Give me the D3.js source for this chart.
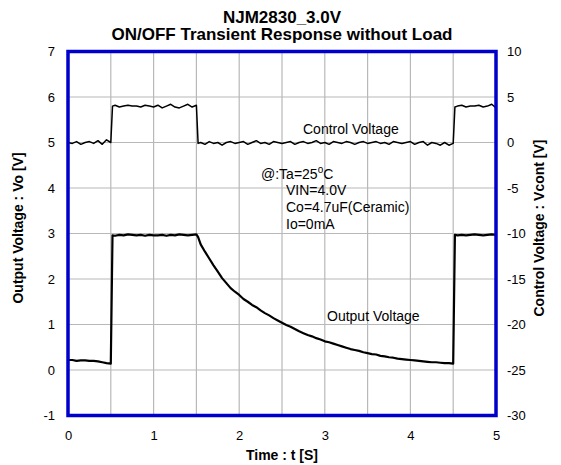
<!DOCTYPE html>
<html>
<head>
<meta charset="utf-8">
<script src="https://cdn.jsdelivr.net/npm/d3@7"></script>
<style>
  html, body { margin: 0; padding: 0; background: #fff; }
  svg { display: block; font-family: "Liberation Sans", Arial, sans-serif; }
</style>
</head>
<body>
<svg id="chart" width="561" height="465"></svg>
<script>
// ---- Data ----
const titleLines = ["NJM2830_3.0V", "ON/OFF Transient Response without Load"];
const xTicks = [0, 1, 2, 3, 4, 5];
const yLeftTicks = [-1, 0, 1, 2, 3, 4, 5, 6, 7];
const yRightTicks = [-30, -25, -20, -15, -10, -5, 0, 5, 10];
const xGrid = [0.5, 1, 1.5, 2, 2.5, 3, 3.5, 4, 4.5];
const yGrid = [0, 1, 2, 3, 4, 5, 6];

const time = [
  0.00,0.05,0.10,0.15,0.20,0.25,0.30,0.35,0.40,0.45,0.50,
  0.52,
  0.55,0.60,0.65,0.70,0.75,0.80,0.85,0.90,0.95,1.00,1.05,1.10,1.15,1.20,1.25,1.30,1.35,1.40,1.45,1.50,
  1.52,
  1.55,1.60,1.65,1.70,1.75,1.80,1.85,1.90,1.95,2.00,
  2.05,2.10,2.15,2.20,2.25,2.30,2.35,2.40,2.45,2.50,
  2.55,2.60,2.65,2.70,2.75,2.80,2.85,2.90,2.95,3.00,
  3.05,3.10,3.15,3.20,3.25,3.30,3.35,3.40,3.45,3.50,
  3.55,3.60,3.65,3.70,3.75,3.80,3.85,3.90,3.95,4.00,
  4.05,4.10,4.15,4.20,4.25,4.30,4.35,4.40,4.45,4.50,
  4.52,
  4.55,4.60,4.65,4.70,4.75,4.80,4.85,4.90,4.95,5.00
];

// Control voltage (right axis, V)
const controlV = [
  0.0,-0.1,0.1,-0.2,0.0,0.1,-0.1,0.2,-0.2,0.3,0.0,
  4.0,
  4.1,3.9,4.0,4.1,4.0,4.0,3.9,4.1,4.0,3.9,4.1,3.8,4.0,4.2,3.9,3.8,4.0,4.2,3.9,4.1,
  -0.1,
  0.0,-0.2,0.1,-0.1,0.0,-0.3,0.0,0.1,-0.1,0.0,
  0.1,-0.2,0.0,0.2,-0.1,0.0,-0.2,0.1,0.0,-0.1,
  0.0,0.1,-0.2,0.0,0.1,-0.1,0.0,0.2,-0.1,0.0,
  -0.2,0.1,0.0,-0.1,0.1,0.0,-0.2,0.0,0.1,-0.1,
  0.0,0.1,-0.1,0.0,-0.2,0.1,0.0,-0.1,0.0,0.1,
  -0.2,0.0,0.1,-0.3,0.0,-0.1,-0.3,0.0,-0.3,-0.1,
  3.9,
  4.0,4.1,3.9,4.0,4.0,4.1,3.9,4.0,4.2,3.8
];

// Output voltage (left axis, V)
const outputV = [
  0.22,0.22,0.20,0.21,0.21,0.20,0.20,0.19,0.17,0.15,0.14,
  2.96,
  2.95,2.97,2.96,2.98,2.97,2.96,2.97,2.95,2.97,2.96,2.96,2.97,2.95,2.97,2.96,2.98,2.97,2.96,2.97,2.98,
  2.92,
  2.76,2.60,2.45,2.30,2.16,2.02,1.91,1.80,1.72,1.65,
  1.56,1.50,1.43,1.38,1.31,1.25,1.20,1.14,1.09,1.04,
  0.99,0.95,0.90,0.85,0.81,0.77,0.74,0.70,0.67,0.63,
  0.61,0.58,0.55,0.52,0.49,0.46,0.44,0.42,0.39,0.37,
  0.35,0.34,0.31,0.30,0.28,0.27,0.25,0.24,0.23,0.22,
  0.21,0.20,0.19,0.18,0.17,0.17,0.16,0.15,0.15,0.14,
  2.97,
  2.96,2.97,2.96,2.97,2.98,2.97,2.96,2.97,2.98,2.97
];

// ---- Layout ----
const svg = d3.select("#chart");
const L = 68, R = 496, T = 51.5, B = 415.5;

const x = d3.scaleLinear().domain([0, 5]).range([L, R]);
const yL = d3.scaleLinear().domain([-1, 7]).range([B, T]);
const yR = d3.scaleLinear().domain([-30, 10]).range([B, T]);

// Gridlines
const grid = svg.append("g").attr("stroke", "#b8b8b8").attr("stroke-width", 1.2);
grid.selectAll("line.v").data(xGrid).join("line")
  .attr("x1", d => x(d)).attr("x2", d => x(d)).attr("y1", T).attr("y2", B);
grid.selectAll("line.h").data(yGrid).join("line")
  .attr("x1", L).attr("x2", R).attr("y1", d => yL(d)).attr("y2", d => yL(d));

// Series
const pts = time.map((t, i) => ({ t, c: controlV[i], o: outputV[i] }));
svg.append("path").datum(pts)
  .attr("fill", "none").attr("stroke", "#000").attr("stroke-width", 1.5)
  .attr("stroke-linejoin", "round")
  .attr("d", d3.line().x(d => x(d.t)).y(d => yR(d.c)));
svg.append("path").datum(pts)
  .attr("fill", "none").attr("stroke", "#000").attr("stroke-width", 2.2)
  .attr("stroke-linejoin", "round")
  .attr("d", d3.line().x(d => x(d.t)).y(d => yL(d.o)));

// Frame
svg.append("rect").attr("x", L).attr("y", T).attr("width", R - L).attr("height", B - T)
  .attr("fill", "none").attr("stroke", "#0000cc").attr("stroke-width", 3.5);

// Axes
const fmt = d => String(d);
function styleAxis(g) {
  g.select(".domain").remove();
  g.selectAll(".tick line").remove();
  g.selectAll("text").attr("font-size", 13).attr("fill", "#000")
    .attr("font-family", "'Liberation Sans', Arial, sans-serif");
}
svg.append("g").attr("transform", `translate(${L},0)`)
  .call(d3.axisLeft(yL).tickValues(yLeftTicks).tickSize(0).tickPadding(13).tickFormat(fmt))
  .call(styleAxis);
svg.append("g").attr("transform", `translate(${R},0)`)
  .call(d3.axisRight(yR).tickValues(yRightTicks).tickSize(0).tickPadding(11).tickFormat(fmt))
  .call(styleAxis);
svg.append("g").attr("transform", `translate(0,${B})`)
  .call(d3.axisBottom(x).tickValues(xTicks).tickSize(0).tickPadding(15).tickFormat(fmt))
  .call(styleAxis);

// Titles
svg.append("text").attr("x", 282).attr("y", 22.5).attr("text-anchor", "middle")
  .attr("font-size", 17).attr("font-weight", "bold").text(titleLines[0]);
svg.append("text").attr("x", 282).attr("y", 40).attr("text-anchor", "middle")
  .attr("font-size", 17).attr("font-weight", "bold").text(titleLines[1]);

svg.append("text").attr("x", 282).attr("y", 460).attr("text-anchor", "middle")
  .attr("font-size", 14).attr("font-weight", "bold").text("Time : t [S]");
svg.append("text").attr("transform", "translate(22.5,228) rotate(-90)").attr("text-anchor", "middle")
  .attr("font-size", 14).attr("font-weight", "bold").text("Output Voltage : Vo [V]");
svg.append("text").attr("transform", "translate(544,228) rotate(-90)").attr("text-anchor", "middle")
  .attr("font-size", 14).attr("font-weight", "bold").text("Control Voltage : Vcont [V]");

// Annotations
const ann = svg.append("g").attr("font-size", 14).attr("fill", "#000");
ann.append("text").attr("x", 303).attr("y", 134).text("Control Voltage");
ann.append("text").attr("x", 327).attr("y", 321).text("Output Voltage");
const cond = ann.append("text").attr("x", 261).attr("y", 179);
cond.append("tspan").text("@:Ta=25");
cond.append("tspan").attr("font-size", 10).attr("dy", -6).text("o");
cond.append("tspan").attr("dy", 6).text("C");
ann.append("text").attr("x", 286).attr("y", 195).text("VIN=4.0V");
ann.append("text").attr("x", 286).attr("y", 212).text("Co=4.7uF(Ceramic)");
ann.append("text").attr("x", 286).attr("y", 229).text("Io=0mA");
</script>
</body>
</html>
